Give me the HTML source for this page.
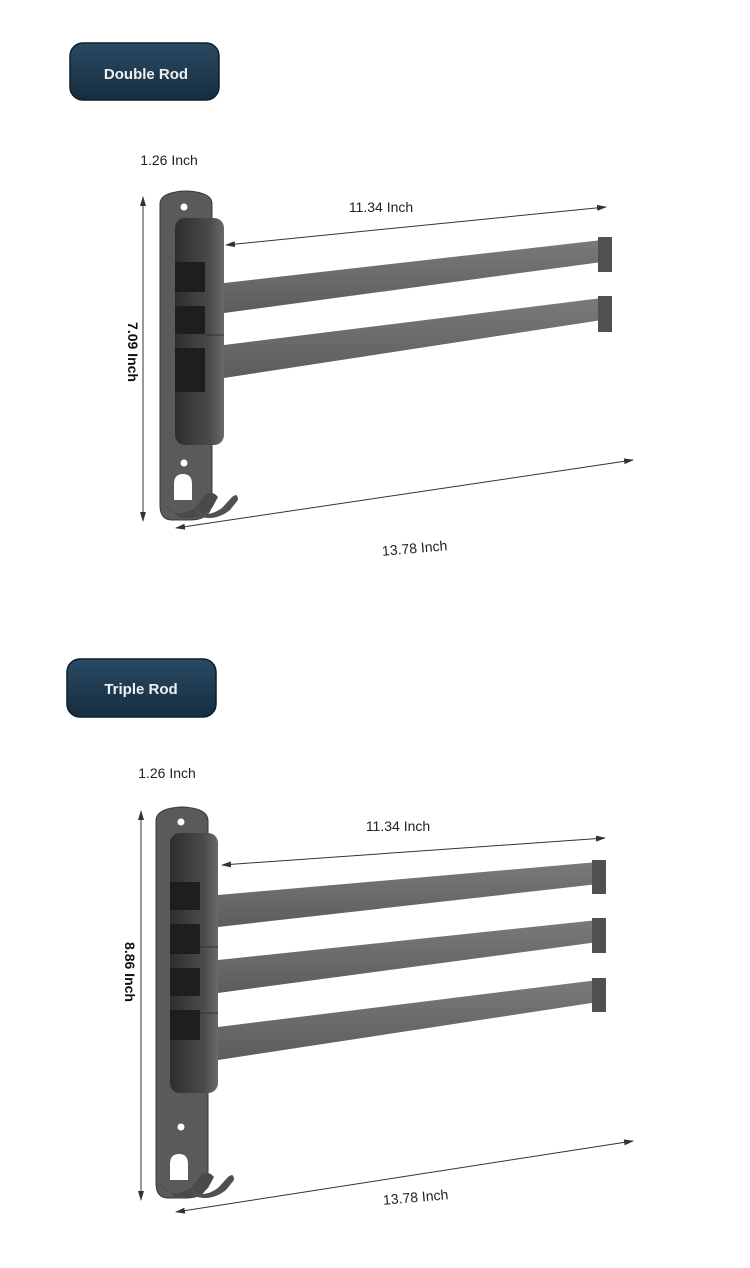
<!DOCTYPE html>
<html><head><meta charset="utf-8"><style>
body{margin:0;background:#fff;}
svg{display:block}
text{font-family:"Liberation Sans",sans-serif;}
</style></head><body>
<svg width="750" height="1268" viewBox="0 0 750 1268" xmlns="http://www.w3.org/2000/svg">
<defs>
<marker id="a" markerWidth="10" markerHeight="8" refX="9" refY="4" orient="auto-start-reverse" markerUnits="userSpaceOnUse"><path d="M0,1 L10,4 L0,7 Z" fill="#333"/></marker>
<linearGradient id="rod" x1="0" y1="0" x2="0" y2="1"><stop offset="0" stop-color="#7a7a7a"/><stop offset="1" stop-color="#5c5c5c"/></linearGradient>
<linearGradient id="piv" x1="0" y1="0" x2="1" y2="0"><stop offset="0" stop-color="#2e2e2e"/><stop offset="0.7" stop-color="#4a4a4a"/><stop offset="1" stop-color="#6a6a6a"/></linearGradient>
<linearGradient id="badge" x1="0" y1="0" x2="0" y2="1"><stop offset="0" stop-color="#2a4a63"/><stop offset="1" stop-color="#152d40"/></linearGradient>
</defs>

<!-- ===== DOUBLE ROD ===== -->
<rect x="70" y="43" width="149" height="57" rx="13" fill="url(#badge)" stroke="#0e1e2b" stroke-width="1.5"/>
<text x="146" y="79" font-size="15" font-weight="bold" fill="#f0f0f0" text-anchor="middle">Double Rod</text>
<text x="169" y="165" font-size="14" fill="#222" text-anchor="middle">1.26 Inch</text>
<line x1="143" y1="197" x2="143" y2="521" stroke="#333" stroke-width="1" marker-start="url(#a)" marker-end="url(#a)"/>
<text transform="translate(128,352) rotate(90)" font-size="14" font-weight="bold" fill="#111" text-anchor="middle">7.09 Inch</text>
<path d="M160,204 Q160,192 186,191 Q212,192 212,204 L212,500 Q212,520 190,520 L172,520 Q160,520 160,505 Z" fill="#5a5a5a" stroke="#3a3a3a"/>
<circle cx="184" cy="207" r="3.5" fill="#fff"/><circle cx="184" cy="463" r="3.5" fill="#fff"/>
<path d="M174,500 L174,484 Q174,474 183,474 Q192,474 192,484 L192,500 Z" fill="#fff"/>
<path d="M165,505 Q175,520 195,508 L205,495 Q212,490 218,497 L212,508 Q200,520 180,518 Z" fill="#4a4a4a"/>
<path d="M195,508 Q205,520 222,508 L232,497 Q238,492 238,500 L230,510 Q215,522 198,516 Z" fill="#505050"/>
<polygon points="224,283 602,240 602,262 224,313" fill="url(#rod)"/>
<rect x="598" y="237" width="14" height="35" fill="#505050"/>
<polygon points="224,345 602,298 602,320 224,378" fill="url(#rod)"/>
<rect x="598" y="296" width="14" height="36" fill="#505050"/>
<rect x="175" y="218" width="49" height="227" rx="10" fill="url(#piv)"/>
<rect x="175" y="262" width="30" height="30" fill="#1e1e1e"/>
<rect x="175" y="306" width="30" height="28" fill="#1e1e1e"/>
<rect x="175" y="348" width="30" height="44" fill="#1e1e1e"/>
<line x1="205" y1="335" x2="224" y2="335" stroke="#333"/>
<line x1="226" y1="245" x2="606" y2="207" stroke="#333" stroke-width="1" marker-start="url(#a)" marker-end="url(#a)"/>
<text x="381" y="212" font-size="14" fill="#222" text-anchor="middle">11.34 Inch</text>
<line x1="176" y1="528" x2="633" y2="460" stroke="#333" stroke-width="1" marker-start="url(#a)" marker-end="url(#a)"/>
<text transform="translate(415,553) rotate(-5)" font-size="14" fill="#222" text-anchor="middle">13.78 Inch</text>

<!-- ===== TRIPLE ROD ===== -->
<rect x="67" y="659" width="149" height="58" rx="13" fill="url(#badge)" stroke="#0e1e2b" stroke-width="1.5"/>
<text x="141" y="694" font-size="15" font-weight="bold" fill="#f0f0f0" text-anchor="middle">Triple Rod</text>
<text x="167" y="778" font-size="14" fill="#222" text-anchor="middle">1.26 Inch</text>
<line x1="141" y1="811" x2="141" y2="1200" stroke="#333" stroke-width="1" marker-start="url(#a)" marker-end="url(#a)"/>
<text transform="translate(125,972) rotate(90)" font-size="14" font-weight="bold" fill="#111" text-anchor="middle">8.86 Inch</text>
<path d="M156,821 Q156,808 182,807 Q208,808 208,821 L208,1178 Q208,1198 186,1198 L168,1198 Q156,1198 156,1183 Z" fill="#5a5a5a" stroke="#3a3a3a"/>
<circle cx="181" cy="822" r="3.5" fill="#fff"/><circle cx="181" cy="1127" r="3.5" fill="#fff"/>
<path d="M170,1180 L170,1164 Q170,1154 179,1154 Q188,1154 188,1164 L188,1180 Z" fill="#fff"/>
<path d="M161,1185 Q171,1200 191,1188 L201,1175 Q208,1170 214,1177 L208,1188 Q196,1200 176,1198 Z" fill="#4a4a4a"/>
<path d="M191,1188 Q201,1200 218,1188 L228,1177 Q234,1172 234,1180 L226,1190 Q211,1202 194,1196 Z" fill="#505050"/>
<polygon points="218,895 598,862 598,884 218,927" fill="url(#rod)"/>
<rect x="592" y="860" width="14" height="34" fill="#505050"/>
<polygon points="218,960 598,920 598,942 218,993" fill="url(#rod)"/>
<rect x="592" y="918" width="14" height="35" fill="#505050"/>
<polygon points="218,1027 598,980 598,1002 218,1060" fill="url(#rod)"/>
<rect x="592" y="978" width="14" height="34" fill="#505050"/>
<rect x="170" y="833" width="48" height="260" rx="10" fill="url(#piv)"/>
<rect x="170" y="882" width="30" height="28" fill="#1e1e1e"/>
<rect x="170" y="924" width="30" height="30" fill="#1e1e1e"/>
<rect x="170" y="968" width="30" height="28" fill="#1e1e1e"/>
<rect x="170" y="1010" width="30" height="30" fill="#1e1e1e"/>
<line x1="200" y1="947" x2="218" y2="947" stroke="#333"/>
<line x1="200" y1="1013" x2="218" y2="1013" stroke="#333"/>
<line x1="222" y1="865" x2="605" y2="838" stroke="#333" stroke-width="1" marker-start="url(#a)" marker-end="url(#a)"/>
<text x="398" y="831" font-size="14" fill="#222" text-anchor="middle">11.34 Inch</text>
<line x1="176" y1="1212" x2="633" y2="1141" stroke="#333" stroke-width="1" marker-start="url(#a)" marker-end="url(#a)"/>
<text transform="translate(416,1202) rotate(-5)" font-size="14" fill="#222" text-anchor="middle">13.78 Inch</text>
</svg>
</body></html>
